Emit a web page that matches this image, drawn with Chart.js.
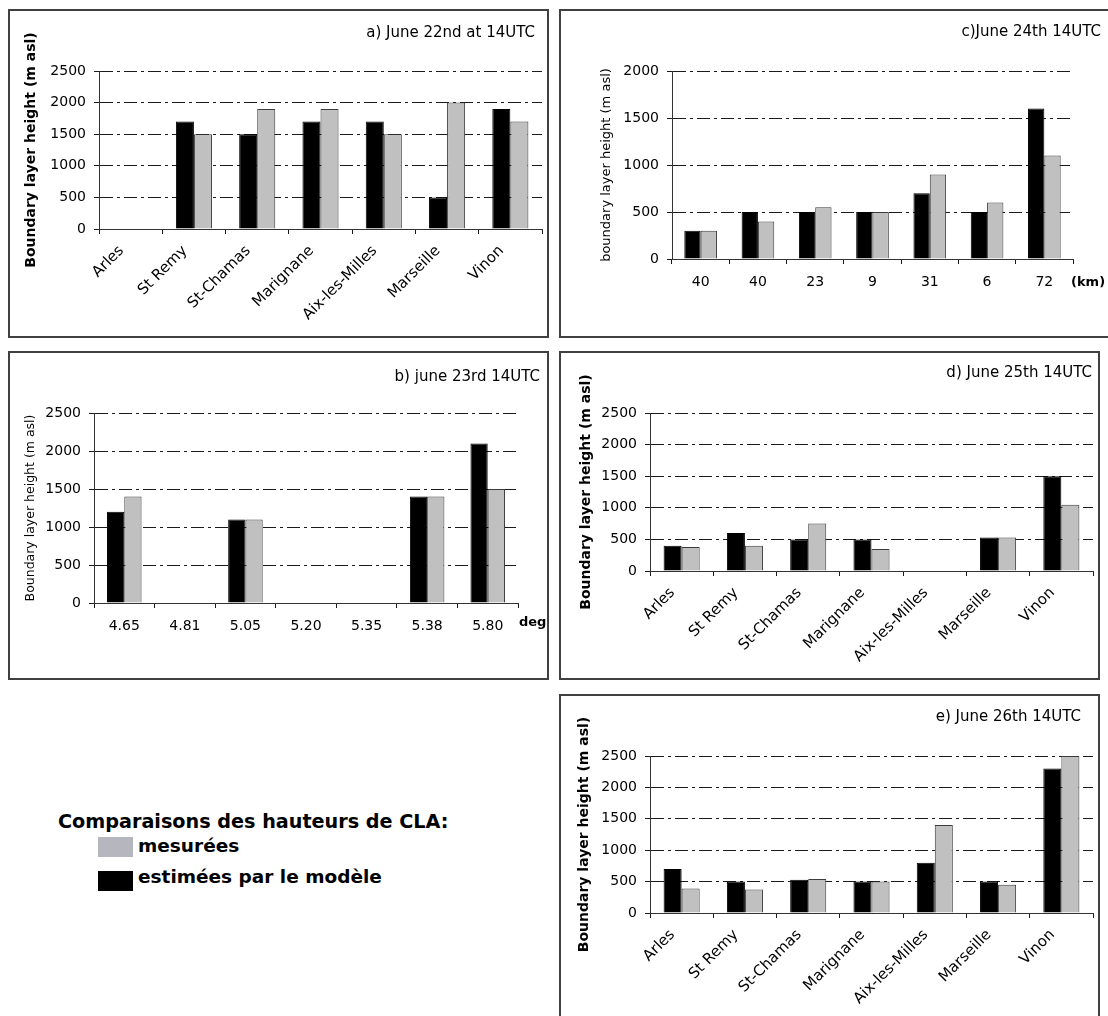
<!DOCTYPE html>
<html>
<head>
<meta charset="utf-8">
<title>Comparaisons des hauteurs de CLA</title>
<script src="https://cdn.jsdelivr.net/npm/chart.js@4/dist/chart.umd.min.js"></script>
<style>
  body {
    margin: 0;
    width: 1108px;
    height: 1016px;
    overflow: hidden;
    position: relative;
    background: #fff;
    font-family: "DejaVu Sans", Verdana, sans-serif;
  }
  .panel {
    position: absolute;
    background: #fff;
  }
  .panel::after {
    content: "";
    position: absolute;
    inset: 0;
    border: 2px solid #404040;
    pointer-events: none;
  }
  .panel canvas {
    position: absolute;
    left: 0;
    top: 0;
  }
  .legend-title {
    position: absolute;
    left: 58px;
    top: 812px;
    font-size: 19.2px;
    line-height: 19.2px;
    font-weight: bold;
    white-space: nowrap;
  }
  .legend-item {
    position: absolute;
    left: 138px;
    font-size: 18.5px;
    line-height: 18.5px;
    font-weight: bold;
    white-space: nowrap;
  }
  .swatch {
    position: absolute;
    left: 98px;
    width: 35px;
    height: 20px;
  }
</style>
</head>
<body>
<div class="panel" style="left:8px;top:9px;width:541px;height:329px"><canvas id="chartA" width="541" height="329"></canvas></div>
<div class="panel" style="left:559px;top:9px;width:553px;height:329px"><canvas id="chartC" width="553" height="329"></canvas></div>
<div class="panel" style="left:8px;top:351px;width:541px;height:329px"><canvas id="chartB" width="541" height="329"></canvas></div>
<div class="panel" style="left:559px;top:351px;width:541px;height:329px"><canvas id="chartD" width="541" height="329"></canvas></div>
<div class="panel" style="left:559px;top:694px;width:541px;height:340px"><canvas id="chartE" width="541" height="340"></canvas></div>

<div class="legend-title">Comparaisons des hauteurs de CLA:</div>
<div class="swatch" style="top:837px;background:#b6b6be"></div>
<div class="legend-item" style="top:837px">mesurées</div>
<div class="swatch" style="top:871px;background:#000"></div>
<div class="legend-item" style="top:868px">estimées par le modèle</div>

<script>
// Categories
const stations = ["Arles", "St Remy", "St-Chamas", "Marignane", "Aix-les-Milles", "Marseille", "Vinon"];
const distanceLabels = ["40", "40", "23", "9", "31", "6", "72"];
const longitudeLabels = ["4.65", "4.81", "5.05", "5.20", "5.35", "5.38", "5.80"];

// Boundary layer heights (m asl): model estimates (black) and measurements (grey)
const modelJune22 = [null, 1700, 1500, 1700, 1700, 500, 1900];
const measuredJune22 = [null, 1500, 1900, 1900, 1500, 2000, 1700];

const modelJune23 = [1200, null, 1100, null, null, 1400, 2100];
const measuredJune23 = [1400, null, 1100, null, null, 1400, 1500];

const modelJune24 = [300, 500, 500, 500, 700, 500, 1600];
const measuredJune24 = [300, 400, 550, 500, 900, 600, 1100];

const modelJune25 = [400, 600, 500, 500, null, 530, 1500];
const measuredJune25 = [380, 400, 750, 350, null, 530, 1050];

const modelJune26 = [700, 500, 530, 500, 800, 500, 2300];
const measuredJune26 = [390, 375, 540, 500, 1400, 450, 2500];

const FONT = "'DejaVu Sans', sans-serif";
const LINE = "#1a1a1a";

Chart.defaults.font.family = FONT;
Chart.defaults.color = "#000";

/**
 * Draws the panel caption (top right) and the x unit label
 */
const panelTextPlugin = {
  id: "panelText",
  afterDraw(chart, args, opts) {
    const ctx = chart.ctx;
    ctx.save();
    ctx.fillStyle = "#000";
    ctx.textBaseline = "middle";
    if (opts.caption) {
      ctx.font = "15px " + FONT;
      ctx.textAlign = "right";
      ctx.fillText(opts.caption, opts.captionX, opts.captionY);
    }
    if (opts.unit) {
      const xScale = chart.scales.x;
      ctx.font = "bold 13px " + FONT;
      ctx.textAlign = "left";
      ctx.fillText(opts.unit, xScale.right + opts.unitDx, xScale.top + opts.unitDy);
    }
    ctx.restore();
  },
};

/**
 * Build one bar chart panel
 */
function buildPanel(canvasId, p) {
  const canvas = document.getElementById(canvasId);
  const ctx = canvas.getContext("2d");
  const rotated = !!p.rotated;

  return new Chart(ctx, {
    type: "bar",
    data: {
      labels: p.labels,
      datasets: [
        {
          label: "estimées par le modèle",
          data: p.model,
          backgroundColor: "#000",
          borderColor: "#000",
          borderWidth: 1,
        },
        {
          label: "mesurées",
          data: p.measured,
          backgroundColor: "#c0c0c0",
          borderColor: "#3c3c3c",
          borderWidth: 1,
        },
      ],
    },
    options: {
      responsive: false,
      animation: false,
      events: [],
      datasets: {
        bar: { categoryPercentage: 0.57, barPercentage: 1.0 },
      },
      layout: {
        padding: {
          left: p.padLeft,
          top: p.top,
          right: canvas.width - p.right,
          bottom: 0,
        },
      },
      plugins: {
        legend: { display: false },
        tooltip: { enabled: false },
        title: { display: false },
        panelText: {
          caption: p.caption,
          captionX: p.captionX,
          captionY: p.captionY,
          unit: p.unit,
          unitDx: p.unitDx,
          unitDy: p.unitDy,
        },
      },
      scales: {
        x: {
          offset: true,
          grid: {
            display: true,
            drawOnChartArea: false,
            drawTicks: true,
            offset: true,
            tickLength: 5,
            color: LINE,
            tickColor: LINE,
          },
          border: { display: true, color: "#333", width: 1 },
          ticks: {
            autoSkip: false,
            maxRotation: rotated ? 45 : 0,
            minRotation: rotated ? 45 : 0,
            padding: rotated ? 8 : 10,
            labelOffset: rotated ? -9 : 0,
            color: "#000",
            font: { size: rotated ? 15 : 14 },
          },
          afterFit(scale) {
            scale.height = canvas.height - p.bottom;
          },
        },
        y: {
          min: 0,
          max: p.max,
          ticks: {
            stepSize: 500,
            padding: 8,
            color: "#000",
            font: { size: 14 },
            callback: (value) => String(value),
          },
          grid: {
            color: (c) => (c.tick && c.tick.value === 0 ? "rgba(0,0,0,0)" : LINE),
            tickColor: LINE,
            tickLength: 5,
            lineWidth: 1,
          },
          border: { display: true, color: "#333", width: 1, dash: [13, 4, 3, 4] },
          title: {
            display: true,
            text: p.yTitle,
            color: "#000",
            padding: 0,
            font: { size: p.yTitleSize, weight: p.yTitleBold ? "bold" : "normal" },
          },
          afterFit(scale) {
            scale.width = p.left - p.padLeft;
          },
        },
      },
    },
    plugins: [panelTextPlugin],
  });
}

const charts = {};

charts.a = buildPanel("chartA", {
  labels: stations,
  model: modelJune22,
  measured: measuredJune22,
  max: 2500,
  rotated: true,
  caption: "a) June 22nd at 14UTC",
  captionX: 527,
  captionY: 24,
  yTitle: "Boundary layer height (m asl)",
  yTitleBold: true,
  yTitleSize: 14,
  padLeft: 15,
  left: 91,
  right: 534,
  top: 62,
  bottom: 220,
});

charts.c = buildPanel("chartC", {
  labels: distanceLabels,
  model: modelJune24,
  measured: measuredJune24,
  max: 2000,
  caption: "c)June 24th 14UTC",
  captionX: 542,
  captionY: 23,
  unit: "(km)",
  unitDx: -2,
  unitDy: 24,
  yTitle: "boundary layer height (m asl)",
  yTitleBold: false,
  yTitleSize: 13,
  padLeft: 40,
  left: 113,
  right: 514,
  top: 62,
  bottom: 250,
});

charts.b = buildPanel("chartB", {
  labels: longitudeLabels,
  model: modelJune23,
  measured: measuredJune23,
  max: 2500,
  caption: "b) june 23rd 14UTC",
  captionX: 532,
  captionY: 26,
  unit: "deg",
  unitDx: 1,
  unitDy: 20,
  yTitle: "Boundary layer height (m asl)",
  yTitleBold: false,
  yTitleSize: 12.5,
  padLeft: 15,
  left: 86,
  right: 510,
  top: 62,
  bottom: 252,
});

charts.d = buildPanel("chartD", {
  labels: stations,
  model: modelJune25,
  measured: measuredJune25,
  max: 2500,
  rotated: true,
  caption: "d) June 25th 14UTC",
  captionX: 533,
  captionY: 22,
  yTitle: "Boundary layer height (m asl)",
  yTitleBold: true,
  yTitleSize: 14,
  padLeft: 19,
  left: 91,
  right: 534,
  top: 62,
  bottom: 220,
});

charts.e = buildPanel("chartE", {
  labels: stations,
  model: modelJune26,
  measured: measuredJune26,
  max: 2500,
  rotated: true,
  caption: "e) June 26th 14UTC",
  captionX: 522,
  captionY: 23,
  yTitle: "Boundary layer height (m asl)",
  yTitleBold: true,
  yTitleSize: 14,
  padLeft: 17,
  left: 91,
  right: 534,
  top: 62,
  bottom: 219,
});
</script>
</body>
</html>
